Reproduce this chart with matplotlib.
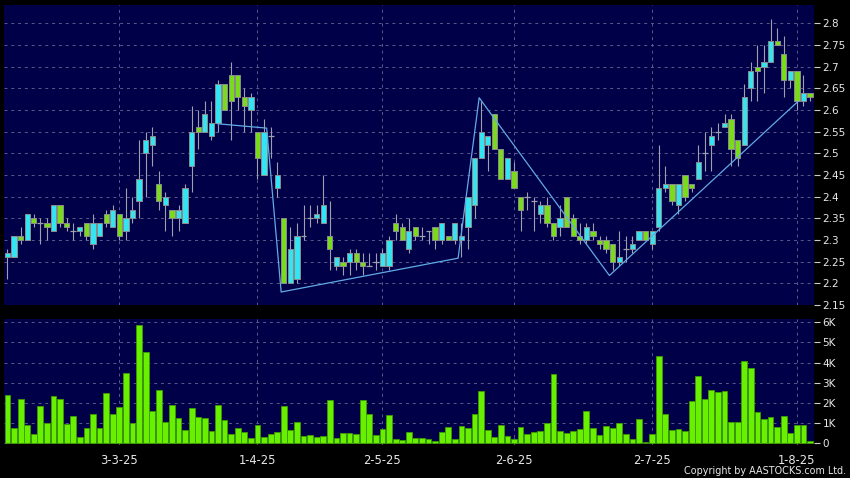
import matplotlib
matplotlib.use('Agg')
import matplotlib.pyplot as plt
import numpy as np

# daily OHLC, one bar per trading day
opens = [2.26, 2.26, 2.31, 2.30, 2.35, 2.34, 2.34, 2.32, 2.38, 2.34,
         2.32, 2.32, 2.34, 2.29, 2.31, 2.36, 2.33, 2.36, 2.32, 2.35,
         2.39, 2.50, 2.52, 2.43, 2.38, 2.37, 2.35, 2.34, 2.47, 2.56,
         2.55, 2.54, 2.57, 2.66, 2.68, 2.68, 2.63, 2.60, 2.55, 2.45,
         2.54, 2.42, 2.35, 2.20, 2.21, 2.31, 2.35, 2.35, 2.34, 2.31,
         2.24, 2.25, 2.25, 2.27, 2.25, 2.24, 2.25, 2.24, 2.24, 2.34,
         2.33, 2.28, 2.33, 2.31, 2.32, 2.33, 2.30, 2.31, 2.30, 2.30,
         2.33, 2.38, 2.49, 2.52, 2.59, 2.51, 2.44, 2.46, 2.40, 2.40,
         2.39, 2.36, 2.38, 2.34, 2.33, 2.40, 2.35, 2.31, 2.30, 2.32,
         2.30, 2.30, 2.29, 2.25, 2.28, 2.28, 2.30, 2.32, 2.29, 2.33,
         2.42, 2.43, 2.38, 2.45, 2.43, 2.44, 2.50, 2.52, 2.55, 2.56,
         2.58, 2.53, 2.52, 2.65, 2.70, 2.70, 2.71, 2.76, 2.73, 2.67,
         2.69, 2.62, 2.64]
highs = [2.28, 2.31, 2.33, 2.36, 2.36, 2.35, 2.35, 2.38, 2.38, 2.35,
         2.34, 2.33, 2.34, 2.36, 2.34, 2.37, 2.38, 2.36, 2.42, 2.40,
         2.53, 2.55, 2.56, 2.46, 2.41, 2.37, 2.38, 2.43, 2.61, 2.60,
         2.62, 2.62, 2.67, 2.66, 2.71, 2.68, 2.65, 2.64, 2.55, 2.58,
         2.56, 2.48, 2.35, 2.33, 2.34, 2.38, 2.38, 2.38, 2.45, 2.39,
         2.26, 2.26, 2.28, 2.28, 2.27, 2.27, 2.27, 2.28, 2.31, 2.36,
         2.34, 2.35, 2.33, 2.33, 2.32, 2.33, 2.34, 2.31, 2.34, 2.34,
         2.40, 2.49, 2.62, 2.54, 2.59, 2.51, 2.49, 2.48, 2.40, 2.41,
         2.40, 2.39, 2.40, 2.34, 2.38, 2.40, 2.36, 2.34, 2.34, 2.34,
         2.31, 2.31, 2.29, 2.32, 2.31, 2.31, 2.32, 2.32, 2.32, 2.52,
         2.47, 2.43, 2.43, 2.45, 2.43, 2.52, 2.55, 2.56, 2.57, 2.59,
         2.59, 2.53, 2.66, 2.71, 2.75, 2.75, 2.81, 2.79, 2.77, 2.69,
         2.69, 2.68, 2.64]
lows = [2.21, 2.26, 2.29, 2.30, 2.33, 2.29, 2.30, 2.32, 2.33, 2.32,
        2.30, 2.31, 2.30, 2.28, 2.31, 2.33, 2.33, 2.30, 2.30, 2.34,
        2.35, 2.40, 2.47, 2.37, 2.32, 2.31, 2.32, 2.34, 2.41, 2.51,
        2.55, 2.53, 2.55, 2.60, 2.53, 2.60, 2.55, 2.55, 2.44, 2.45,
        2.49, 2.40, 2.20, 2.20, 2.20, 2.30, 2.33, 2.34, 2.34, 2.23,
        2.23, 2.22, 2.22, 2.23, 2.22, 2.24, 2.23, 2.24, 2.23, 2.30,
        2.30, 2.27, 2.30, 2.30, 2.29, 2.28, 2.29, 2.30, 2.29, 2.26,
        2.28, 2.35, 2.49, 2.46, 2.51, 2.44, 2.44, 2.42, 2.32, 2.37,
        2.32, 2.34, 2.33, 2.30, 2.31, 2.33, 2.31, 2.29, 2.29, 2.30,
        2.28, 2.27, 2.23, 2.24, 2.25, 2.27, 2.30, 2.30, 2.28, 2.32,
        2.41, 2.38, 2.36, 2.39, 2.41, 2.44, 2.46, 2.46, 2.53, 2.56,
        2.47, 2.47, 2.52, 2.62, 2.62, 2.64, 2.71, 2.75, 2.63, 2.65,
        2.60, 2.61, 2.62]
closes = [2.27, 2.31, 2.30, 2.36, 2.34, 2.34, 2.33, 2.38, 2.34, 2.33,
          2.32, 2.33, 2.31, 2.34, 2.34, 2.34, 2.37, 2.31, 2.35, 2.37,
          2.44, 2.53, 2.54, 2.39, 2.40, 2.35, 2.37, 2.42, 2.55, 2.55,
          2.59, 2.57, 2.66, 2.60, 2.62, 2.63, 2.61, 2.63, 2.49, 2.55,
          2.54, 2.45, 2.20, 2.28, 2.31, 2.31, 2.35, 2.36, 2.38, 2.28,
          2.26, 2.24, 2.27, 2.25, 2.24, 2.24, 2.25, 2.27, 2.30, 2.32,
          2.30, 2.32, 2.31, 2.31, 2.32, 2.30, 2.34, 2.30, 2.34, 2.31,
          2.40, 2.49, 2.55, 2.54, 2.51, 2.44, 2.49, 2.42, 2.37, 2.40,
          2.39, 2.38, 2.34, 2.31, 2.35, 2.33, 2.31, 2.30, 2.33, 2.31,
          2.29, 2.28, 2.25, 2.26, 2.28, 2.29, 2.32, 2.30, 2.32, 2.42,
          2.43, 2.39, 2.43, 2.40, 2.42, 2.48, 2.50, 2.54, 2.55, 2.57,
          2.51, 2.49, 2.63, 2.69, 2.69, 2.71, 2.76, 2.75, 2.67, 2.69,
          2.62, 2.64, 2.63]
# volume in thousands of shares
volumes = [2.38, 0.74, 2.21, 0.93, 0.45, 1.85, 0.99, 2.33, 2.21, 0.96,
           1.34, 0.31, 0.76, 1.44, 0.74, 2.50, 1.45, 1.80, 3.47, 0.99,
           5.87, 4.51, 1.62, 2.64, 1.06, 1.92, 1.26, 0.66, 1.77, 1.31,
           1.24, 0.60, 1.90, 1.14, 0.46, 0.76, 0.56, 0.25, 0.93, 0.33,
           0.45, 0.56, 1.85, 0.68, 1.04, 0.36, 0.40, 0.33, 0.38, 2.15,
           0.25, 0.50, 0.50, 0.48, 2.13, 1.47, 0.40, 0.73, 1.40, 0.23,
           0.17, 0.56, 0.25, 0.26, 0.21, 0.13, 0.58, 0.81, 0.20, 0.88,
           0.74, 1.45, 2.58, 0.66, 0.30, 0.89, 0.35, 0.20, 0.81, 0.46,
           0.56, 0.61, 0.99, 3.44, 0.61, 0.53, 0.63, 0.71, 1.60, 0.74,
           0.40, 0.84, 0.74, 0.99, 0.45, 0.21, 1.22, 0.07, 0.46, 4.31,
           1.47, 0.68, 0.73, 0.63, 2.12, 3.34, 2.18, 2.66, 2.56, 2.61,
           1.07, 1.07, 4.10, 3.74, 1.57, 1.21, 1.32, 0.81, 1.34, 0.51,
           0.91, 0.91, 0.12]

date_labels = ['3-3-25', '1-4-25', '2-5-25', '2-6-25', '2-7-25', '1-8-25']
date_pos = [17, 38, 57, 77, 98, 120]

price_ticks = [2.15, 2.2, 2.25, 2.3, 2.35, 2.4, 2.45, 2.5, 2.55, 2.6,
               2.65, 2.7, 2.75, 2.8]
vol_ticks = [0, 1, 2, 3, 4, 5, 6]
vol_labels = ['0', '1K', '2K', '3K', '4K', '5K', '6K']

# zigzag pattern drawn over the price (bar index, price)
trend_x = [32.0, 39.4, 41.6, 68.5, 71.7, 91.5, 120.2]
trend_y = [2.568, 2.558, 2.18, 2.258, 2.628, 2.218, 2.62]

o = np.array(opens)
h = np.array(highs)
l = np.array(lows)
c = np.array(closes)
idx = np.arange(len(o))
up = c > o
dn = c < o
flat = c == o

bg = '#000048'
grid_col = '#5a5a8c'
cyan = '#33e4f2'
green = '#7ada1c'
wick = '#a0a0ac'
txt = '#e8e8e8'

fig = plt.figure(figsize=(8.5, 4.78), dpi=100, facecolor='black')
ax = fig.add_axes([4/850, 1-305/478, 810/850, 300/478], facecolor=bg)
axv = fig.add_axes([4/850, 1-444.3/478, 810/850, 125.3/478], facecolor=bg, sharex=ax)

ax.vlines(idx, l, h, color=wick, lw=0.8, zorder=2)
ax.bar(idx[up], (c - o)[up], bottom=o[up], width=0.8, color=cyan,
       edgecolor='#8c8c8c', lw=0.7, zorder=3)
ax.bar(idx[dn], (o - c)[dn], bottom=c[dn], width=0.8, color=green,
       edgecolor='#8c8c8c', lw=0.7, zorder=3)
ax.hlines(c[flat], idx[flat] - 0.45, idx[flat] + 0.45, color=wick, lw=0.9, zorder=3)
ax.plot(trend_x, trend_y, color='#62aae4', lw=0.9, zorder=4)

axv.bar(idx, volumes, width=0.88, color='#68f000', edgecolor='#3c9c00', lw=0.6, zorder=3)

ax.set_xlim(-0.53, 122.6)
ax.set_ylim(2.15, 2.842)
axv.set_ylim(-0.05, 6.16)

for a in (ax, axv):
    for s in a.spines.values():
        s.set_visible(False)
    a.yaxis.tick_right()
    a.set_xticks(date_pos)
    a.grid(True, color=grid_col, lw=0.7, ls=(0, (3, 4)), zorder=1)
    a.set_axisbelow(True)
    a.tick_params(axis='y', direction='out', length=4, width=0.8, color='#cccccc',
                  labelcolor=txt, labelsize=7.5, pad=2)

ax.set_yticks(price_ticks)
ax.set_yticklabels([f'{v:g}' for v in price_ticks])
ax.tick_params(axis='x', length=0, labelbottom=False)

axv.set_yticks(vol_ticks)
axv.set_yticklabels(vol_labels)
axv.set_xticklabels(date_labels)
axv.tick_params(axis='x', direction='in', length=4, width=0.8, color='#aaaaaa',
                labelcolor=txt, labelsize=8.3, pad=7)

fig.text(846/850, 1-471/478, 'Copyright by AASTOCKS.com Ltd.', ha='right', va='center',
         color=txt, fontsize=6.9)

fig.savefig('out.png', dpi=100, facecolor='black')
